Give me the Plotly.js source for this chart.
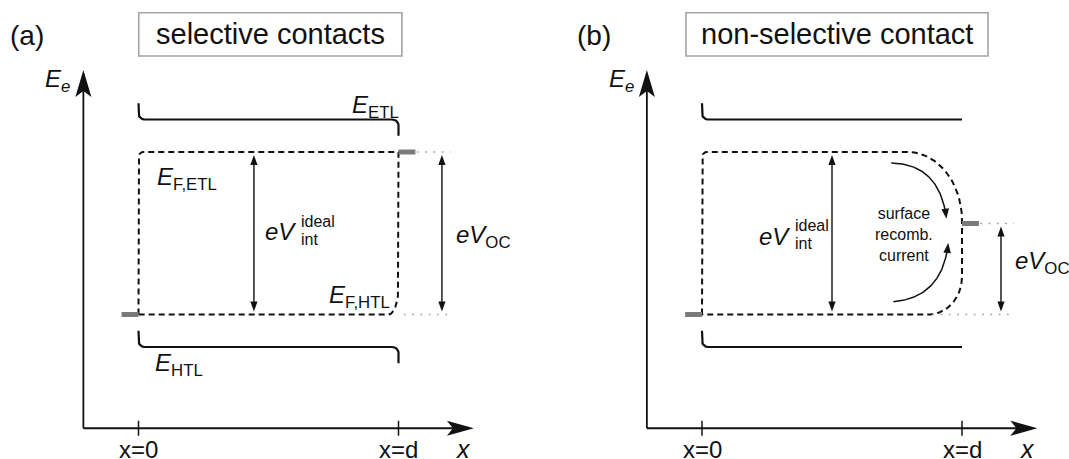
<!DOCTYPE html>
<html>
<head>
<meta charset="utf-8">
<script src="https://cdn.plot.ly/plotly-3.0.1.min.js"></script>
<style>
  html, body { margin: 0; padding: 0; background: #fff; }
  #chart { width: 1069px; height: 459px; }
</style>
</head>
<body>
<div id="chart"></div>
<script>
// ---- Band-diagram values (arbitrary energy units, x in units of the absorber thickness d) ----
const contactX = [0, 1];                       // x = 0 and x = d
const tickLabels = ['x=0', 'x=d'];
// level order: E_ETL, E_F,ETL, E_F,HTL, E_HTL
const levelsA = [1.2, 1.0, 0.0, -0.2];
const levelsB = [1.2, 1.0, 0.0, -0.2];
// transport-layer band ends (ETL at x=0, ETL at x=d, HTL at x=0, HTL at x=d)
const bandEndsA = [1.3, 1.1, -0.1, -0.3];
const bandEndsB = [1.3, -0.1];
// quasi-Fermi-level splitting at the contact (eV_OC)
const eVocA = 1.0;
const eVocB = 0.56;
// where the voltage arrows sit along x
const arrowXA = [0.444, 1.167];                // eV_int, eV_OC
const arrowXB = [0.5, 1.15];
// surface recombination bends the QFLs in panel (b): start of bend at top, bottom
const bendStartB = [0.79, 0.87];
const titles = ['selective contacts', 'non-selective contact'];

// ---- geometry of the two panels ----
const W = 1069, H = 459, SPLIT = 534.5;
const PX_X = 260, PX_E = 162.5;                // pixels per x-unit and per energy unit
const X0 = [138.5, 702], E0 = 314.5;           // pixel location of x=0 and E=0
const AXIS_X = -0.212, AXIS_E = -0.70, X_TIP = 1.29, E_TIP = 1.505;

const FONT = 'Liberation Sans, Arial, Helvetica, sans-serif';
const INK = '#111';

function norm(v) { const l = Math.hypot(v[0], v[1]); return [v[0] / l, v[1] / l]; }

// Polyline through data vertices, right-angle corners rounded by
// quarter ellipses given as [pixels along incoming, pixels along outgoing].
function roundedLine(verts, radii, steps = 14) {
  const xs = [], ys = [];
  const px = p => [p[0] * PX_X, p[1] * PX_E];
  verts.forEach((v, i) => {
    const r = radii[i];
    if (!r || i === 0 || i === verts.length - 1) { xs.push(v[0]); ys.push(v[1]); return; }
    const V = px(v), A = px(verts[i - 1]), B = px(verts[i + 1]);
    const uin = norm([V[0] - A[0], V[1] - A[1]]);
    const uout = norm([B[0] - V[0], B[1] - V[1]]);
    const [a, b] = Array.isArray(r) ? r : [r, r];
    const C = [V[0] - a * uin[0] + b * uout[0], V[1] - a * uin[1] + b * uout[1]];
    for (let k = 0; k <= steps; k++) {
      const t = (k / steps) * Math.PI / 2;
      const q = [C[0] - b * Math.cos(t) * uout[0] + a * Math.sin(t) * uin[0],
                 C[1] - b * Math.cos(t) * uout[1] + a * Math.sin(t) * uin[1]];
      xs.push(q[0] / PX_X); ys.push(q[1] / PX_E);
    }
  });
  return { x: xs, y: ys };
}

const traces = [];
const shapes = [];
const annotations = [];

function line(ax, pts, style) {
  traces.push(Object.assign({
    type: 'scatter', mode: 'lines', x: pts.x, y: pts.y,
    xaxis: ax.x, yaxis: ax.y, hoverinfo: 'skip', showlegend: false
  }, { line: style }));
}

// Arrowhead drawn in pixel units, tip anchored at a data point; angle 90 = up.
function head(ax, x, e, angleDeg, len, halfW, notch) {
  const th = angleDeg * Math.PI / 180;
  const rot = p => [p[0] * Math.cos(th) - p[1] * Math.sin(th), p[0] * Math.sin(th) + p[1] * Math.cos(th)];
  const pts = [[0, 0], [-len, halfW], [-len + notch, 0], [-len, -halfW]].map(rot);
  const path = 'M' + pts.map(p => p[0].toFixed(2) + ',' + p[1].toFixed(2)).join('L') + 'Z';
  shapes.push({
    type: 'path', xref: ax.x, yref: ax.y, xsizemode: 'pixel', ysizemode: 'pixel',
    xanchor: x, yanchor: e, path: path, fillcolor: INK, line: { width: 0 }, layer: 'above'
  });
}

function text(ax, x, e, str, size, extra) {
  annotations.push(Object.assign({
    xref: ax.x, yref: ax.y, x: x, y: e, text: str, showarrow: false,
    font: { family: FONT, size: size, color: INK }, xanchor: 'center', yanchor: 'middle'
  }, extra || {}));
}

// Double-headed vertical arrow between two levels
function voltageArrow(ax, x, eLow, eHigh) {
  const gap = 3 / PX_E, hl = 10;
  const lo = eLow + gap, hi = eHigh - gap;
  line(ax, { x: [x, x], y: [lo + (hl - 2) / PX_E, hi - (hl - 2) / PX_E] }, { color: INK, width: 1.4 });
  head(ax, x, hi, 90, hl, 3.6, 0);
  head(ax, x, lo, -90, hl, 3.6, 0);
}

// Curved arrow along a quadratic Bezier, head at the end
function curvedArrow(ax, P0, C, P2) {
  const hl = 10;
  const bez = t => [(1 - t) * (1 - t) * P0[0] + 2 * (1 - t) * t * C[0] + t * t * P2[0],
                    (1 - t) * (1 - t) * P0[1] + 2 * (1 - t) * t * C[1] + t * t * P2[1]];
  const xs = [], ys = [];
  for (let k = 0; k <= 60; k++) {
    const p = bez(k / 60);
    const d = Math.hypot((p[0] - P2[0]) * PX_X, (p[1] - P2[1]) * PX_E);
    if (d < hl - 3) break;
    xs.push(p[0]); ys.push(p[1]);
  }
  line(ax, { x: xs, y: ys }, { color: INK, width: 1.5 });
  const ang = Math.atan2((P2[1] - C[1]) * PX_E, (P2[0] - C[0]) * PX_X) * 180 / Math.PI;
  head(ax, P2[0], P2[1], ang, hl, 3.8, 0);
}

function axes(ax) {
  line(ax, { x: [AXIS_X, AXIS_X], y: [AXIS_E, E_TIP - 20 / PX_E] }, { color: INK, width: 1.8 });
  line(ax, { x: [AXIS_X, X_TIP - 20 / PX_X], y: [AXIS_E, AXIS_E] }, { color: INK, width: 1.8 });
  head(ax, AXIS_X, E_TIP, 90, 27, 8, 6);
  head(ax, X_TIP, AXIS_E, 0, 27, 7.5, 6);
  contactX.forEach((cx, i) => {
    line(ax, { x: [cx, cx], y: [AXIS_E - 7.5 / PX_E, AXIS_E + 7.5 / PX_E] }, { color: INK, width: 1.5 });
    text(ax, cx, -0.83, tickLabels[i], 24);
  });
  text(ax, X_TIP - 0.04, -0.83, '<i>x</i>', 25);
  text(ax, AXIS_X - 0.155, 1.443, '<i>E<sub>e</sub></i>', 24, { xanchor: 'left' });
}

const grey = { color: '#7a7a7a', width: 5 };
const dotted = { color: '#a8a8a8', width: 1.6, dash: '2px,6.3px' };
const dashed = { color: INK, width: 2, dash: '6px,4px' };
const solid = { color: INK, width: 2.2 };

// ===================== (a) selective contacts =====================
const A = { x: 'x', y: 'y' };
{
  const [eEtl, eFn, eFp, eHtl] = levelsA;
  axes(A);
  line(A, roundedLine([[0, bandEndsA[0]], [0, eEtl], [1, eEtl], [1, bandEndsA[1]]], [0, 6, 6, 0]), solid);
  line(A, roundedLine([[0, bandEndsA[2]], [0, eHtl], [1, eHtl], [1, bandEndsA[3]]], [0, 6, 6, 0]), solid);
  line(A, roundedLine([[0, eFp], [0, eFn], [1, eFn], [1, eFp], [0, eFp]], [0, 5, 0, [28, 10], 0]), dashed);
  line(A, { x: [1.07, 1.2], y: [eFp + eVocA, eFp + eVocA] }, dotted);
  line(A, { x: [1.02, 1.2], y: [eFp, eFp] }, dotted);
  line(A, { x: [1, 1.065], y: [eFp + eVocA, eFp + eVocA] }, grey);
  line(A, { x: [-0.065, 0], y: [eFp, eFp] }, grey);
  voltageArrow(A, arrowXA[0], eFp, eFn);
  voltageArrow(A, arrowXA[1], eFp, eFp + eVocA);

  text(A, 1.01, 1.283, '<i>E</i><sub>ETL</sub>', 24, { xanchor: 'right' });
  text(A, 0.064, 0.84, '<i>E</i><sub>F,ETL</sub>', 24, { xanchor: 'left' });
  text(A, 0.975, 0.108, '<i>E</i><sub>F,HTL</sub>', 24, { xanchor: 'right' });
  text(A, 0.056, -0.31, '<i>E</i><sub>HTL</sub>', 24, { xanchor: 'left' });
  text(A, 0.6135, 0.511, '<i>eV</i>', 24, { xanchor: 'right' });
  text(A, 0.617, 0.575, 'ideal', 16, { xanchor: 'left' });
  text(A, 0.617, 0.462, 'int', 16, { xanchor: 'left' });
  text(A, 1.213, 0.48, '<i>eV</i><sub>OC</sub>', 24, { xanchor: 'left' });
  text(A, -0.429, 1.72, '(a)', 28);
  shapes.push({ type: 'rect', xref: 'x', yref: 'y', x0: 0.001, x1: 1.013, y0: 1.591, y1: 1.857,
                line: { color: '#a3a3a3', width: 1.6 }, fillcolor: 'rgba(0,0,0,0)' });
  text(A, 0.507, 1.724, titles[0], 29);
}

// ===================== (b) non-selective contact =====================
const B = { x: 'x2', y: 'y2' };
{
  const [eEtl, eFn, eFp, eHtl] = levelsB;
  axes(B);
  line(B, roundedLine([[0, bandEndsB[0]], [0, eEtl], [1, eEtl]], [0, 6, 0]), solid);
  line(B, roundedLine([[0, bandEndsB[1]], [0, eHtl], [1, eHtl]], [0, 6, 0]), solid);
  const topBend = [(1 - bendStartB[0]) * PX_X, (eFn - 0.58) * PX_E];
  const botBend = [(0.23 - eFp) * PX_E, (1 - bendStartB[1]) * PX_X];
  line(B, roundedLine([[0, eFp], [0, eFn], [1, eFn], [1, eFp], [0, eFp]], [0, 5, topBend, botBend, 0], 24), dashed);
  line(B, { x: [1.07, 1.2], y: [eFp + eVocB, eFp + eVocB] }, dotted);
  line(B, { x: [0.885, 1.19], y: [eFp, eFp] }, dotted);
  line(B, { x: [1, 1.065], y: [eFp + eVocB, eFp + eVocB] }, grey);
  line(B, { x: [-0.065, 0], y: [eFp, eFp] }, grey);
  voltageArrow(B, arrowXB[0], eFp, eFn);
  voltageArrow(B, arrowXB[1], eFp, eFp + eVocB);
  curvedArrow(B, [0.728, 0.933], [0.915, 0.925], [0.94, 0.59]);
  curvedArrow(B, [0.736, 0.079], [0.925, 0.105], [0.947, 0.44]);

  text(B, 0.775, 0.49, 'surface<br>recomb.<br>current', 16);
  text(B, 0.346, 0.483, '<i>eV</i>', 24, { xanchor: 'right' });
  text(B, 0.35, 0.547, 'ideal', 16, { xanchor: 'left' });
  text(B, 0.35, 0.434, 'int', 16, { xanchor: 'left' });
  text(B, 1.196, 0.32, '<i>eV</i><sub>OC</sub>', 24, { xanchor: 'left' });
  text(B, -0.415, 1.72, '(b)', 28);
  shapes.push({ type: 'rect', xref: 'x2', yref: 'y2', x0: -0.0615, x1: 1.1, y0: 1.591, y1: 1.857,
                line: { color: '#a3a3a3', width: 1.6 }, fillcolor: 'rgba(0,0,0,0)' });
  text(B, 0.519, 1.724, titles[1], 29);
}

const yRange = [-(H - E0) / PX_E, E0 / PX_E];
const hidden = { visible: false, showgrid: false, zeroline: false, fixedrange: true };
const layout = {
  width: W, height: H,
  margin: { l: 0, r: 0, t: 0, b: 0, pad: 0 },
  paper_bgcolor: '#fff', plot_bgcolor: '#fff',
  showlegend: false,
  xaxis: Object.assign({ domain: [0, SPLIT / W], range: [-X0[0] / PX_X, (SPLIT - X0[0]) / PX_X], anchor: 'y' }, hidden),
  yaxis: Object.assign({ domain: [0, 1], range: yRange, anchor: 'x' }, hidden),
  xaxis2: Object.assign({ domain: [SPLIT / W, 1], range: [(SPLIT - X0[1]) / PX_X, (W - X0[1]) / PX_X], anchor: 'y2' }, hidden),
  yaxis2: Object.assign({ domain: [0, 1], range: yRange, anchor: 'x2' }, hidden),
  shapes: shapes,
  annotations: annotations
};

Plotly.newPlot('chart', traces, layout, { staticPlot: true, displayModeBar: false });
</script>
</body>
</html>
